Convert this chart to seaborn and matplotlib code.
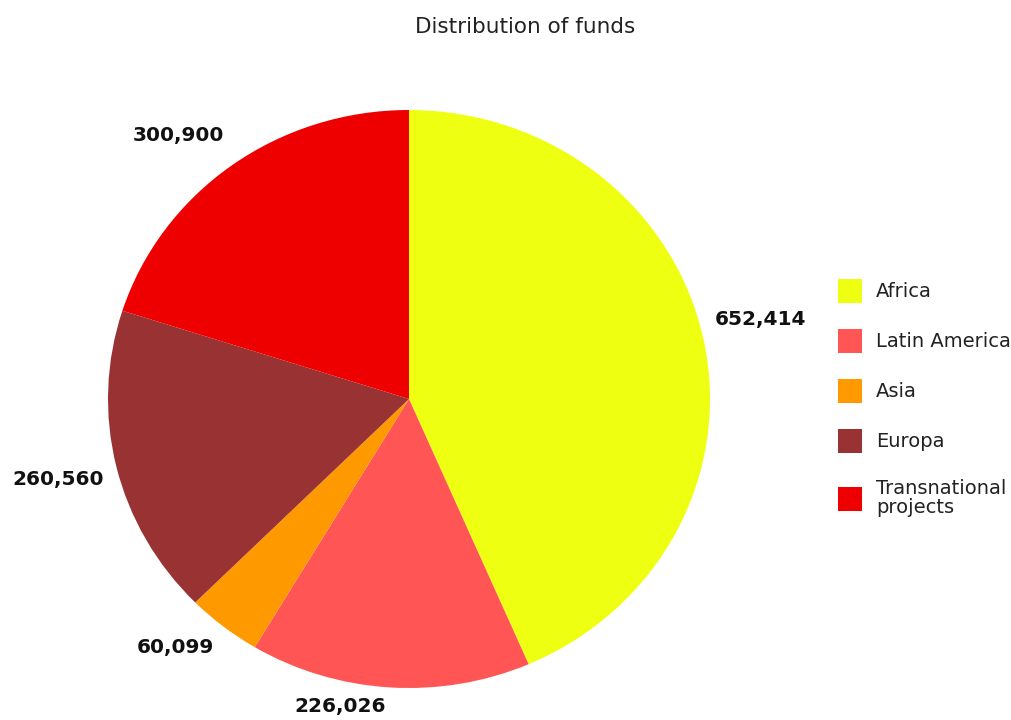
import matplotlib
matplotlib.use("Agg")
import matplotlib.pyplot as plt
import numpy as np
import seaborn as sns

regions = ["Africa", "Latin America", "Asia", "Europa", "Transnational\nprojects"]
funds = [652414, 226026, 60099, 260560, 300900]
colors = ["#EEFF11", "#FF5555", "#FF9900", "#993333", "#EE0000"]

# value label placement: radius (in pie radii) and angular nudge (degrees)
label_radius = [1.2, 1.09, 1.16, 1.2, 1.19]
label_nudge = [1.5, -8.5, -4.0, 0.0, 4.0]

sns.set_theme(style="white")
plt.rcParams["font.family"] = ["DejaVu Sans"]

fig = plt.figure(figsize=(10.12, 7.2), dpi=100)
W, H = 1012, 720
ax = fig.add_axes([108 / W, 32 / H, 602 / W, 578 / H])

value_labels = [f"{v:,}" for v in funds]
wedges, texts = ax.pie(
    funds,
    labels=value_labels,
    colors=colors,
    startangle=90,
    counterclock=False,
    wedgeprops=dict(linewidth=0),
    textprops=dict(fontsize=14.5, fontweight="bold", color="#111111"),
)
for w, t, r, d in zip(wedges, texts, label_radius, label_nudge):
    mid = np.deg2rad((w.theta1 + w.theta2) / 2 + d)
    t.set_position((r * np.cos(mid), r * np.sin(mid)))
    t.set_ha("center")
    t.set_va("center")

ax.set_aspect("auto")
ax.set_xlim(-1, 1)
ax.set_ylim(-1, 1)
ax.axis("off")

fig.text(525 / W, 1 - 27 / H, "Distribution of funds", ha="center", va="center",
         fontsize=15.5, color="#222222")

leg = fig.legend(
    wedges, regions,
    loc="upper left",
    bbox_to_anchor=(838 / W, 1 - 279 / H),
    frameon=False,
    fontsize=14,
    handlelength=1.25,
    handleheight=1.5,
    handletextpad=0.7,
    labelspacing=1.35,
    borderpad=0,
    borderaxespad=0,
)
for txt in leg.get_texts():
    txt.set_color("#222222")
    txt.set_linespacing(1.0)

fig.savefig("out.png", dpi=100)
